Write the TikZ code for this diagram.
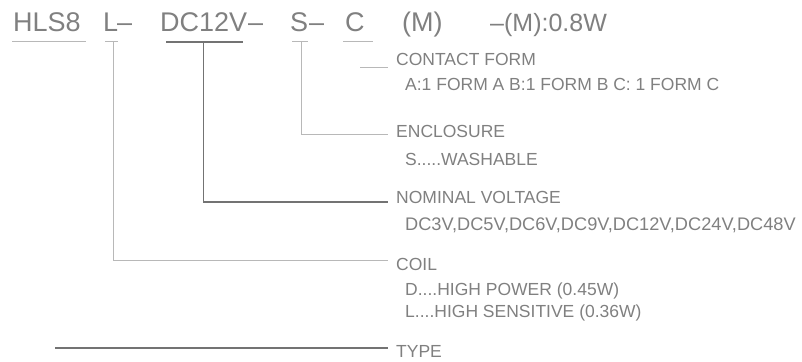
\documentclass[tikz,border=0pt]{standalone}
\usepackage{fontspec}
\setmainfont{Liberation Sans}
\usetikzlibrary{positioning}

\definecolor{cadtext}{gray}{0.5}
\definecolor{leadlight}{gray}{0.72}
\definecolor{leaddark}{gray}{0.45}

\tikzset{
  code/.style={inner sep=0pt, anchor=base west, text=cadtext, font=\fontsize{27}{30}\selectfont},
  title/.style={inner sep=0pt, anchor=base west, text=cadtext, font=\fontsize{17.5}{20}\selectfont},
  lead/.style={draw=leadlight, line width=1pt},
  darklead/.style={draw=leaddark, line width=1.2pt},
}

\begin{document}
\begin{tikzpicture}[x=1pt,y=-1pt]
  \useasboundingbox (0,0) rectangle (802,361);

  % Draw the ordering code
  \node[code] (hls) at (13,32) {HLS8};
  \node[code] (coil) at (103,32) {L};
  \node[code] (dasha) at (117,32) {–};
  \node[code] (volt) at (160,32) {DC12V};
  \node[code] (dashb) at (248,32) {–};
  \node[code] (encl) at (290,32) {S};
  \node[code] (dashc) at (309,32) {–};
  \node[code] (form) at (345,32) {C};
  \node[code] (mark) at (402,32) {(M)};
  \node[code, font=\fontsize{25}{28}\selectfont] (note) at (490,32) {–(M):0.8W};

  % Underline the code parts
  \draw[lead] ([xshift=-1pt,yshift=-10pt]hls.base west) -- ([xshift=5pt,yshift=-10pt]hls.base east);
  \draw[lead] ([xshift=2pt,yshift=-10pt]coil.base west) -- ([xshift=0pt,yshift=-10pt]coil.base east);
  \draw[darklead] ([xshift=6pt,yshift=-10pt]volt.base west) -- ([xshift=-4pt,yshift=-10pt]volt.base east);
  \draw[lead] ([xshift=2pt,yshift=-10pt]encl.base west) -- ([xshift=0pt,yshift=-10pt]encl.base east);
  \draw[lead] ([xshift=-2pt,yshift=-10pt]form.base west) -- ([xshift=8pt,yshift=-10pt]form.base east);

  % Add the descriptions
  \node[title] (cftitle) at (396,65) {CONTACT FORM};
  \node[title] (cftext) at (405,90) {A:1 FORM A B:1 FORM B C: 1 FORM C};
  \node[title] (enctitle) at (396,137) {ENCLOSURE};
  \node[title] (enctext) at (405,165) {S.....WASHABLE};
  \node[title] (nomtitle) at (396,203) {NOMINAL VOLTAGE};
  \node[title, font=\fontsize{18.2}{20}\selectfont] (nomtext) at (405,230) {DC3V,DC5V,DC6V,DC9V,DC12V,DC24V,DC48V};
  \node[title] (coiltitle) at (396,270) {COIL};
  \node[title] (coiltexta) at (405,295) {D....HIGH POWER (0.45W)};
  \node[title] (coiltextb) at (405,317) {L....HIGH SENSITIVE (0.36W)};
  \node[title] (typetitle) at (396,357) {TYPE};

  % Leader ends
  \coordinate (cfstart) at (360,67);
  \coordinate (cfend) at (388,67);
  \coordinate (encend) at (388,134);
  \coordinate (nomend) at (388,202);
  \coordinate (coilend) at (388,260);
  \coordinate (typestart) at (55,348);
  \coordinate (typeend) at (388,348);

  % Draw the leaders
  \draw[lead] (cfstart) -- (cfend);
  \draw[lead] ([xshift=2pt,yshift=-10pt]encl.base) |- (encend);
  \draw[darklead] ([yshift=-10pt]volt.base) |- (nomend);
  \draw[lead] ([xshift=3pt,yshift=-10pt]coil.base) |- (coilend);
  \draw[darklead] (typestart) -- (typeend);
\end{tikzpicture}
\end{document}
